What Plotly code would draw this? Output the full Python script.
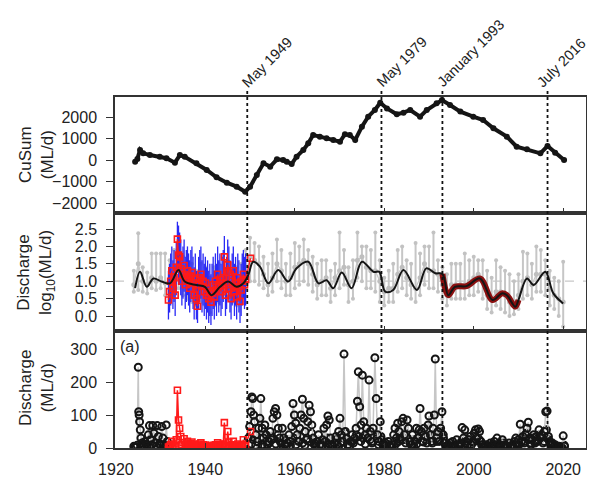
import plotly.graph_objects as go

# ---------------- data ----------------
# Top panel: cumulative sum (ML/d)
cusum_years = [1924.3, 1924.8, 1925.4, 1926.1, 1927.6, 1929.8, 1931.3, 1933.2, 1934.3, 1935.4,
               1938.0, 1940.3, 1942.5, 1944.8, 1947.0, 1948.9, 1950.0, 1951.5, 1953.0, 1954.5,
               1956.0, 1957.4, 1958.2, 1959.3, 1960.4, 1961.9, 1963.0, 1964.1, 1965.6, 1967.1,
               1968.6, 1970.1, 1971.2, 1972.3, 1973.5, 1975.0, 1976.4, 1977.9, 1979.1, 1980.6,
               1982.8, 1984.3, 1985.8, 1988.0, 1989.5, 1991.7, 1992.9, 1994.7, 1997.0, 1999.9,
               2002.1, 2004.4, 2007.4, 2009.6, 2011.9, 2014.9, 2016.5, 2018.2, 2020.2]
cusum_vals = [-80, 50, 465, 310, 230, 150, 80, -125, 230, 150,
              -155, -465, -805, -1055, -1240, -1475, -1240, -700, -155, -310,
              30, 0, -80, -185, 155, 465, 775, 1160, 1085, 1010,
              930, 850, 1200, 1160, 930, 1550, 2015, 2325, 2665, 2400,
              2125, 2200, 2325, 2015, 2325, 2635, 2790, 2560, 2250, 2015,
              1860, 1475, 1085, 620, 495, 310, 650, 340, 0]

# Middle panel: grey annual log10 discharge with ranges
grey_years = list(range(1924, 2021))
grey_mid = [0.9, 1.5, 1.0, 0.9, 1.1, 1.0, 1.1, 0.95, 1.0, 1.2,
            1.3, 1.1, 1.0, 0.9, 0.8, 0.9, 0.8, 0.6, 0.8, 0.9,
            1.1, 1.0, 0.9, 0.8, 0.9, 1.2, 1.7, 1.6, 1.5, 1.2,
            0.9, 1.1, 1.5, 1.3, 1.0, 1.1, 1.4, 1.5, 1.6, 1.5,
            1.2, 0.9, 1.0, 1.1, 0.8, 1.1, 1.3, 1.4, 0.9, 1.0,
            1.6, 1.7, 1.4, 1.3, 1.3, 1.0, 0.7, 0.8, 0.8, 1.2,
            1.4, 1.1, 0.9, 0.8, 1.1, 1.5, 1.3, 1.3, 1.2, 0.9,
            0.6, 0.9, 0.9, 0.9, 0.9, 1.0, 1.1, 1.2, 1.0, 0.6,
            0.5, 0.7, 0.7, 0.6, 0.4, 0.3, 0.6, 1.0, 1.1, 0.9,
            1.2, 1.2, 1.2, 0.8, 0.6, 0.5, 0.4]
grey_hi = [1.3, 2.38, 1.4, 1.25, 1.8, 1.8, 1.8, 1.8, 1.6, 1.9,
           2.0, 1.7, 1.5, 1.5, 1.3, 1.5, 1.4, 1.1, 1.4, 1.5,
           1.7, 1.6, 1.5, 1.4, 1.5, 1.9, 2.25, 2.1, 2.0, 1.7,
           1.5, 1.8, 2.2, 1.9, 1.5, 1.8, 2.1, 2.0, 2.2, 1.9,
           1.7, 1.5, 1.6, 1.6, 1.3, 1.5, 2.4, 1.9, 1.4, 1.6,
           2.4, 2.0, 2.0, 1.9, 2.4, 1.6, 1.1, 1.3, 1.5, 1.9,
           2.0, 1.6, 1.5, 2.1, 1.8, 2.0, 2.0, 2.4, 1.6, 1.4,
           1.2, 1.5, 1.5, 1.5, 1.8, 1.6, 1.7, 1.6, 1.6, 1.3,
           1.1, 1.6, 1.4, 1.3, 1.2, 1.0, 1.2, 1.85, 1.8, 1.5,
           2.0, 1.9, 1.6, 1.3, 1.1, 1.0, 1.56]
grey_lo = [0.7, 0.75, 0.7, 0.65, 0.8, 0.75, 0.8, 0.6, 0.5, 0.6,
           0.8, 0.6, 0.5, 0.4, 0.3, 0.4, 0.3, 0.1, 0.3, 0.4,
           0.6, 0.5, 0.4, 0.3, 0.4, 0.8, 1.0, 1.0, 0.9, 0.8,
           0.6, 0.7, 1.0, 0.8, 0.6, 0.6, 0.8, 0.9, 1.0, 0.9,
           0.7, 0.5, 0.6, 0.6, 0.4, 0.6, 0.8, 0.9, 0.4, 0.5,
           1.1, 1.0, 0.8, 0.8, 0.7, 0.4, 0.3, 0.4, 0.4, 0.7,
           0.8, 0.6, 0.5, 0.4, 0.6, 0.9, 0.8, 0.8, 0.7, 0.5,
           0.3, 0.5, 0.5, 0.5, 0.5, 0.6, 0.6, 0.7, 0.5, 0.2,
           0.1, 0.3, 0.2, 0.1, 0.0, 0.05, 0.2, 0.5, 0.6, 0.5,
           0.7, 0.7, 0.6, 0.3, 0.2, 0.0, -0.3]

# Middle panel: 1931-1950 red series (log10) with blue ranges
red_years = [1931.75, 1932.0, 1932.25, 1932.5, 1932.75, 1933.0, 1933.25, 1933.5, 1933.75,
             1934.0, 1934.25, 1934.5, 1934.75, 1935.0, 1935.25, 1935.5, 1935.75,
             1936.0, 1936.25, 1936.5, 1936.75, 1937.0, 1937.25, 1937.5, 1937.75,
             1938.0, 1938.25, 1938.5, 1938.75, 1939.0, 1939.25, 1939.5, 1939.75,
             1940.0, 1940.25, 1940.5, 1940.75, 1941.0, 1941.25, 1941.5, 1941.75,
             1942.0, 1942.25, 1942.5, 1942.75, 1943.0, 1943.25, 1943.5, 1943.75,
             1944.0, 1944.25, 1944.5, 1944.75, 1945.0, 1945.25, 1945.5, 1945.75,
             1946.0, 1946.25, 1946.5, 1946.75, 1947.0, 1947.25, 1947.5, 1947.75,
             1948.0, 1948.25, 1948.5, 1948.75, 1949.0, 1950.1]
red_log = [0.46, 0.70, 1.00, 1.30, 0.80, 1.10, 0.60, 1.40, 2.21,
           1.75, 1.70, 1.36, 1.00, 1.20, 1.45, 0.90, 1.10,
           1.30, 1.00, 0.80, 1.15, 1.25, 0.95, 0.60, 1.05,
           0.50, 0.28, 0.90, 1.10, 1.20, 0.85, 1.00, 0.70,
           0.95, 0.60, 0.80, 0.50, 0.70, 0.40, 0.65, 0.90,
           0.55, 1.00, 0.75, 1.20, 0.85, 1.05, 0.70, 0.95,
           1.10, 1.70, 0.60, 0.90, 1.47, 1.25, 0.80, 0.50,
           1.00, 1.30, 0.70, 0.95, 0.55, 1.10, 0.85, 0.42,
           0.75, 1.00, 1.20, 0.90, 1.05, 1.66]
blue_hi = [1.3, 1.5, 1.8, 2.0, 1.6, 1.9, 1.5, 2.1, 2.71,
           2.6, 2.4, 2.2, 1.8, 2.0, 2.2, 1.7, 1.9,
           2.0, 1.8, 1.6, 1.9, 2.0, 1.7, 1.4, 1.8,
           1.3, 1.1, 1.7, 1.9, 2.0, 1.6, 1.8, 1.5,
           1.7, 1.4, 1.6, 1.3, 1.5, 1.2, 1.5, 1.7,
           1.3, 1.8, 1.5, 2.0, 1.6, 1.8, 1.5, 1.7,
           1.9, 2.3, 1.4, 1.7, 2.2, 2.0, 1.6, 1.3,
           1.8, 2.0, 1.5, 1.7, 1.3, 1.8, 1.6, 1.2,
           1.5, 1.8, 1.9, 1.7, 1.8]
blue_lo = [-0.1, 0.1, 0.3, 0.5, 0.2, 0.4, 0.0, 0.6, 1.3,
           0.9, 0.9, 0.6, 0.3, 0.5, 0.7, 0.2, 0.4,
           0.6, 0.3, 0.1, 0.4, 0.5, 0.2, -0.1, 0.3,
           -0.1, -0.2, 0.2, 0.4, 0.5, 0.1, 0.3, 0.0,
           0.2, -0.1, 0.1, -0.2, 0.0, -0.26, 0.0, 0.2,
           -0.1, 0.3, 0.0, 0.4, 0.1, 0.3, 0.0, 0.2,
           0.4, 0.9, 0.0, 0.2, 0.7, 0.5, 0.1, -0.1,
           0.3, 0.5, 0.0, 0.3, -0.1, 0.4, 0.1, -0.2,
           0.0, 0.3, 0.5, 0.2, 0.3]

# Middle panel: smoothed trend
smooth_years = [1924.3, 1925.4, 1926.9, 1928.4, 1930.2, 1932.1, 1934.0, 1935.4, 1938.0, 1939.9,
                1941.4, 1943.3, 1945.1, 1947.0, 1948.5, 1949.6, 1950.7, 1952.2, 1954.1, 1956.3,
                1958.5, 1960.4, 1963.0, 1965.3, 1967.1, 1968.6, 1970.5, 1972.7, 1975.0, 1977.6,
                1978.9, 1980.2, 1982.0, 1984.3, 1987.3, 1989.4, 1991.4, 1993.0, 1994.3, 1995.8,
                1998.4, 2001.4, 2004.2, 2006.3, 2007.4, 2009.3, 2010.0, 2011.9, 2013.4, 2016.0,
                2017.8, 2020.0]
smooth_vals = [0.80, 1.27, 0.84, 1.08, 0.99, 0.94, 1.32, 0.99, 0.89, 0.84,
               0.60, 0.84, 0.99, 0.84, 0.94, 1.18, 1.56, 1.42, 0.94, 1.32,
               0.99, 1.37, 1.56, 0.94, 1.03, 0.80, 1.25, 0.80, 1.56, 1.27,
               1.27, 0.70, 0.75, 1.32, 0.75, 1.37, 1.23, 1.21, 0.60, 0.84,
               0.86, 1.08, 0.46, 0.65, 0.60, 0.27, 0.46, 1.08, 0.89, 1.27,
               0.65, 0.36]

# Bottom panel: discharge (ML/d)
black_years = [1924.0, 1924.25, 1924.5, 1924.75, 1925.0, 1925.1, 1925.2, 1925.3, 1925.45, 1925.6, 1925.8,
               1926.0, 1926.25, 1926.5, 1926.75, 1927.0, 1927.25, 1927.5, 1927.75, 1928.0, 1928.25,
               1928.5, 1928.75, 1929.0, 1929.25, 1929.5, 1929.75, 1930.0, 1930.25, 1930.5, 1930.75,
               1931.0, 1931.25, 1931.5,
               1949.6, 1949.9, 1950.2, 1950.4, 1950.6, 1950.8, 1951.0, 1951.3, 1951.6, 1951.9, 1952.2, 1952.4, 1952.7, 1953.0, 1953.3, 1953.6, 1953.9, 1954.2, 1954.5, 1954.8,
               1955.1, 1955.4, 1955.7, 1956.0, 1956.3, 1956.6, 1956.9, 1957.2, 1957.5, 1957.8, 1958.1, 1958.4, 1958.7, 1959.0, 1959.3, 1959.6, 1959.9,
               1960.2, 1960.5, 1960.8, 1961.1, 1961.4, 1961.7, 1962.0, 1962.3, 1962.6, 1962.9, 1963.2, 1963.5, 1963.8, 1964.1, 1964.4, 1964.7,
               1965.0, 1965.3, 1965.6, 1965.9, 1966.2, 1966.5, 1966.8, 1967.1, 1967.4, 1967.7, 1968.0, 1968.3, 1968.6, 1968.9, 1969.2, 1969.5, 1969.8,
               1970.1, 1970.4, 1970.7, 1971.0, 1971.3, 1971.6, 1971.9, 1972.2, 1972.5, 1972.8, 1973.1, 1973.4, 1973.7, 1974.0, 1974.2, 1974.5, 1974.8,
               1975.1, 1975.4, 1975.7, 1976.0, 1976.3, 1976.6, 1976.9, 1977.2, 1977.5, 1977.9, 1978.2, 1978.5, 1978.8, 1979.1, 1979.4, 1979.7,
               1980.0, 1980.3, 1980.6, 1980.9, 1981.2, 1981.5, 1981.8, 1982.1, 1982.4, 1982.7, 1983.0, 1983.3, 1983.6, 1983.9, 1984.2, 1984.5, 1984.8,
               1985.1, 1985.4, 1985.7, 1986.0, 1986.3, 1986.6, 1986.9, 1987.2, 1987.5, 1987.8, 1988.0, 1988.3, 1988.6, 1988.9, 1989.2, 1989.5, 1989.8,
               1990.0, 1990.3, 1990.6, 1990.9, 1991.2, 1991.4, 1991.7, 1992.0, 1992.3, 1992.6, 1992.9, 1993.2, 1993.5, 1993.8, 1994.1, 1994.4, 1994.7,
               1995.0, 1995.3, 1995.6, 1995.9, 1996.2, 1996.5, 1996.8, 1997.1, 1997.4, 1997.7, 1998.0, 1998.3, 1998.6, 1998.9, 1999.2, 1999.5, 1999.8,
               2000.1, 2000.4, 2000.7, 2001.0, 2001.3, 2001.6, 2001.9, 2002.2, 2002.5, 2002.8, 2003.1, 2003.4, 2003.7, 2004.0, 2004.3, 2004.6, 2004.9,
               2005.2, 2005.5, 2005.8, 2006.1, 2006.4, 2006.7, 2007.0, 2007.3, 2007.6, 2007.9, 2008.2, 2008.5, 2008.8, 2009.1, 2009.4, 2009.7,
               2010.0, 2010.4, 2010.7, 2011.0, 2011.3, 2011.6, 2011.9, 2012.2, 2012.5, 2012.8, 2013.1, 2013.4, 2013.7, 2014.0, 2014.3, 2014.6, 2014.9,
               2015.2, 2015.5, 2015.8, 2016.1, 2016.4, 2016.7, 2017.0, 2017.3, 2017.6, 2017.9, 2018.2, 2018.5, 2018.8, 2019.1, 2019.4, 2019.7, 2020.0, 2020.3]
black_vals = [5, 3, 2, 8, 245, 110, 100, 80, 55, 30, 15,
              10, 5, 20, 12, 8, 40, 68, 25, 10, 68,
              45, 15, 5, 68, 35, 12, 8, 65, 30, 10,
              5, 70, 20,
              30, 65, 110, 155, 150, 100, 80, 40, 20, 60, 90, 150, 60, 30, 70, 40, 10, 20, 50, 25,
              90, 110, 120, 100, 60, 30, 15, 60, 30, 10, 5, 15, 40, 20, 65, 135, 100,
              75, 40, 20, 60, 100, 148, 90, 50, 25, 80, 130, 110, 70, 30, 15, 5,
              20, 40, 10, 5, 25, 60, 20, 70, 97, 85, 30, 10, 5, 15, 35, 10, 50,
              90, 40, 20, 285, 50, 30, 10, 5, 20, 40, 15, 30, 60, 142, 231, 125, 70,
              221, 80, 40, 60, 30, 206, 50, 20, 60, 274, 150, 40, 20, 80, 25, 10,
              5, 15, 3, 20, 8, 2, 10, 40, 60, 30, 75, 50, 25, 80, 90, 40, 15,
              85, 60, 20, 10, 40, 5, 20, 60, 30, 55, 120, 50, 20, 60, 35, 15, 70,
              97, 40, 20, 60, 100, 270, 30, 50, 20, 60, 110, 40, 15, 5, 2, 8, 15,
              5, 20, 8, 3, 25, 10, 5, 15, 62, 30, 55, 20, 8, 25, 35, 10, 20,
              45, 55, 30, 58, 50, 20, 10, 5, 3, 10, 2, 5, 15, 3, 8, 20, 5,
              30, 10, 2, 8, 25, 5, 10, 2, 5, 15, 3, 8, 2, 20, 30, 10,
              25, 72, 20, 35, 15, 40, 60, 78, 30, 10, 25, 40, 15, 35, 20, 55, 30,
              40, 15, 50, 110, 112, 35, 20, 8, 15, 5, 10, 3, 2, 5, 2, 1, 37, 5]
# additional low-flow readings (quarter / three-quarter of each year, 1950-2020)
low_years = [y + f for y in range(1950, 2020) for f in (0.25, 0.75)] + [2020.25]
low_vals = [12, 25, 8, 18, 30, 10, 5, 22, 15, 35,
            28, 12, 40, 20, 8, 15, 25, 5, 18, 30,
            10, 22, 35, 15, 8, 28, 20, 45, 12, 6,
            4, 15, 8, 20, 30, 12, 6, 18, 25, 3,
            15, 30, 45, 10, 6, 18, 25, 40, 35, 20,
            30, 12, 45, 25, 15, 35, 28, 10, 35, 15,
            5, 2, 10, 4, 6, 15, 20, 35, 25, 45,
            30, 15, 8, 25, 12, 30, 40, 18, 25, 35,
            30, 15, 40, 20, 25, 45, 30, 12, 3, 6,
            2, 10, 5, 12, 20, 8, 15, 25, 10, 18,
            20, 35, 25, 10, 4, 8, 2, 6, 10, 3,
            6, 12, 3, 15, 2, 5, 4, 10, 6, 15,
            12, 30, 20, 45, 25, 15, 30, 20, 25, 40,
            30, 20, 55, 25, 10, 6, 4, 2, 3, 1,
            8]
red_flow = [3, 5, 10, 20, 6, 12, 4, 25, 175,
            85, 60, 35, 10, 16, 28, 8, 12,
            20, 10, 6, 14, 18, 9, 4, 11,
            3, 2, 8, 12, 16, 7, 10, 5,
            9, 4, 6, 3, 5, 2.5, 4, 8,
            3.5, 10, 6, 16, 7, 11, 5, 9,
            12, 77, 4, 8, 50, 18, 6, 3,
            10, 20, 5, 9, 3.5, 12, 7, 2.6,
            5.6, 10, 25, 8, 11, 50]

change_years = [1949.37, 1979.37, 1993.0, 2016.5]
change_labels = ["May 1949", "May 1979", "January 1993", "July 2016"]
x_ticks = [1920, 1940, 1960, 1980, 2000, 2020]

# ---------------- figure ----------------
FONT = "Liberation Sans, Arial, sans-serif"
TXT = "#222222"
XR = [1919.8, 2025.1]

fig = go.Figure()

# top panel
fig.add_trace(go.Scatter(x=cusum_years, y=cusum_vals, xaxis="x3", yaxis="y3",
                         mode="lines+markers", line=dict(color="#151515", width=4),
                         marker=dict(color="#151515", size=6)))

# middle panel
GREY = "#C6C6C6"
fig.add_trace(go.Scatter(x=grey_years, y=grey_mid, xaxis="x2", yaxis="y2",
                         mode="lines+markers", line=dict(color=GREY, width=1.2),
                         marker=dict(color="#BEBEBE", size=5),
                         error_y=dict(type="data", symmetric=False,
                                      array=[h - m for h, m in zip(grey_hi, grey_mid)],
                                      arrayminus=[m - l for m, l in zip(grey_mid, grey_lo)],
                                      color=GREY, thickness=2, width=0)))
fig.add_trace(go.Scatter(x=grey_years + grey_years, y=grey_hi + grey_lo, xaxis="x2", yaxis="y2",
                         mode="markers", marker=dict(color="#C2C2C2", size=4)))
n_blue = len(blue_hi)
fig.add_trace(go.Scatter(x=red_years[:n_blue], y=red_log[:n_blue], xaxis="x2", yaxis="y2",
                         mode="markers", marker=dict(color="rgba(0,0,0,0)", size=2),
                         error_y=dict(type="data", symmetric=False,
                                      array=[h - m for h, m in zip(blue_hi, red_log)],
                                      arrayminus=[m - l for m, l in zip(red_log, blue_lo)],
                                      color="#2A2AF5", thickness=1.3, width=0)))
fig.add_trace(go.Scatter(x=red_years, y=red_log, xaxis="x2", yaxis="y2",
                         mode="lines+markers", line=dict(color="#FF1A1A", width=1.3),
                         marker=dict(symbol="square-open", color="#FF1A1A", size=6,
                                     line=dict(width=1.6))))
seg_x = [x for x in smooth_years if 1992.9 <= x <= 2010.1]
seg_y = [y for x, y in zip(smooth_years, smooth_vals) if 1992.9 <= x <= 2010.1]
fig.add_trace(go.Scatter(x=seg_x, y=seg_y, xaxis="x2", yaxis="y2", mode="lines",
                         line=dict(color="#8B1010", width=6, shape="spline")))
fig.add_trace(go.Scatter(x=smooth_years, y=smooth_vals, xaxis="x2", yaxis="y2", mode="lines",
                         line=dict(color="#151515", width=2, shape="spline")))

# bottom panel
fig.add_trace(go.Scatter(x=low_years, y=low_vals, xaxis="x", yaxis="y", mode="markers",
                         marker=dict(symbol="circle-open", color="#151515", size=7,
                                     line=dict(width=2))))
for lo_y, hi_y in [(1900, 1940), (1940, 2100)]:
    bx = [x for x in black_years if lo_y <= x < hi_y]
    by = [y for x, y in zip(black_years, black_vals) if lo_y <= x < hi_y]
    fig.add_trace(go.Scatter(x=bx, y=by, xaxis="x", yaxis="y", mode="lines+markers",
                             line=dict(color="#C6C6C6", width=1.5),
                             marker=dict(symbol="circle-open", color="#151515", size=7,
                                         line=dict(width=2))))
fig.add_trace(go.Scatter(x=red_years, y=red_flow, xaxis="x", yaxis="y", mode="lines+markers",
                         line=dict(color="#FF1A1A", width=1.5),
                         marker=dict(symbol="square-open", color="#FF1A1A", size=6,
                                     line=dict(width=1.6))))

axis_common = dict(showline=True, mirror=True, linecolor="#333333", linewidth=1.5,
                   showgrid=False, zeroline=False)
xcommon = dict(range=XR, tickvals=x_ticks, ticks="inside", ticklen=5, tickwidth=1.2,
               tickcolor="#333333", **axis_common)
ycommon = dict(ticks="outside", ticklen=7, tickwidth=1.2, tickcolor="#333333",
               ticklabelstandoff=6, **axis_common)

# page body adds an 8 px offset; margins compensate
H = 351.0
fig.update_layout(
    width=587, height=469,
    margin=dict(l=107, r=9, t=89, b=29, autoexpand=False),
    paper_bgcolor="white", plot_bgcolor="white", showlegend=False,
    font=dict(family=FONT, size=16, color=TXT),
    xaxis=dict(anchor="y", domain=[0, 1], showticklabels=True, ticklabelstandoff=6, **xcommon),
    xaxis2=dict(anchor="y2", domain=[0, 1], showticklabels=False, **xcommon),
    xaxis3=dict(anchor="y3", domain=[0, 1], showticklabels=False, **xcommon),
    yaxis=dict(domain=[0, 117 / H], range=[0, 355], tickvals=[0, 100, 200, 300], **ycommon),
    yaxis2=dict(domain=[117 / H, 235 / H], range=[-0.43, 2.96],
                tickvals=[0, 0.5, 1.0, 1.5, 2.0, 2.5], tickformat=".1f", **ycommon),
    yaxis3=dict(domain=[235 / H, 1], range=[-2465, 2930],
                tickvals=[-2000, -1000, 0, 1000, 2000], **ycommon),
)

shapes = [dict(type="line", xref="paper", x0=0, x1=1, yref="y2", y0=1.0, y1=1.0,
               line=dict(color="#C8C8C8", width=1.2, dash="dash"), layer="below")]
for yr in change_years:
    shapes.append(dict(type="line", xref="x3", x0=yr, x1=yr, yref="paper", y0=0, y1=1.017,
                       line=dict(color="#111111", width=1.8, dash="dot")))
fig.update_layout(shapes=shapes)

ann = []
label_shift = [-11, -11, -11, -17]
for yr, lab, sh in zip(change_years, change_labels, label_shift):
    ann.append(dict(x=yr, xref="x3", y=1, yref="paper", text=lab, showarrow=False,
                    textangle=-45, xanchor="left", yanchor="bottom", xshift=sh, yshift=4,
                    font=dict(size=14.5, color=TXT)))
ytitle_x = (36 - 115) / 471.0
for ytxt, ypos in [("CuSum<br>(ML/d)", (448 - 155) / H),
                   ("Discharge<br>log<sub>10</sub>(ML/d)", (448 - 273) / H),
                   ("Discharge<br>(ML/d)", (448 - 388) / H)]:
    ann.append(dict(x=ytitle_x, xref="paper", y=ypos, yref="paper", text=ytxt,
                    showarrow=False, textangle=-90, xanchor="center", yanchor="middle",
                    font=dict(size=17, color=TXT)))
ann.append(dict(x=0.006, xref="paper", y=(448 - 336) / H, yref="paper", text="(a)",
                showarrow=False, xanchor="left", yanchor="top", font=dict(size=16, color=TXT)))
fig.update_layout(annotations=ann)

fig.write_html("out.html")
